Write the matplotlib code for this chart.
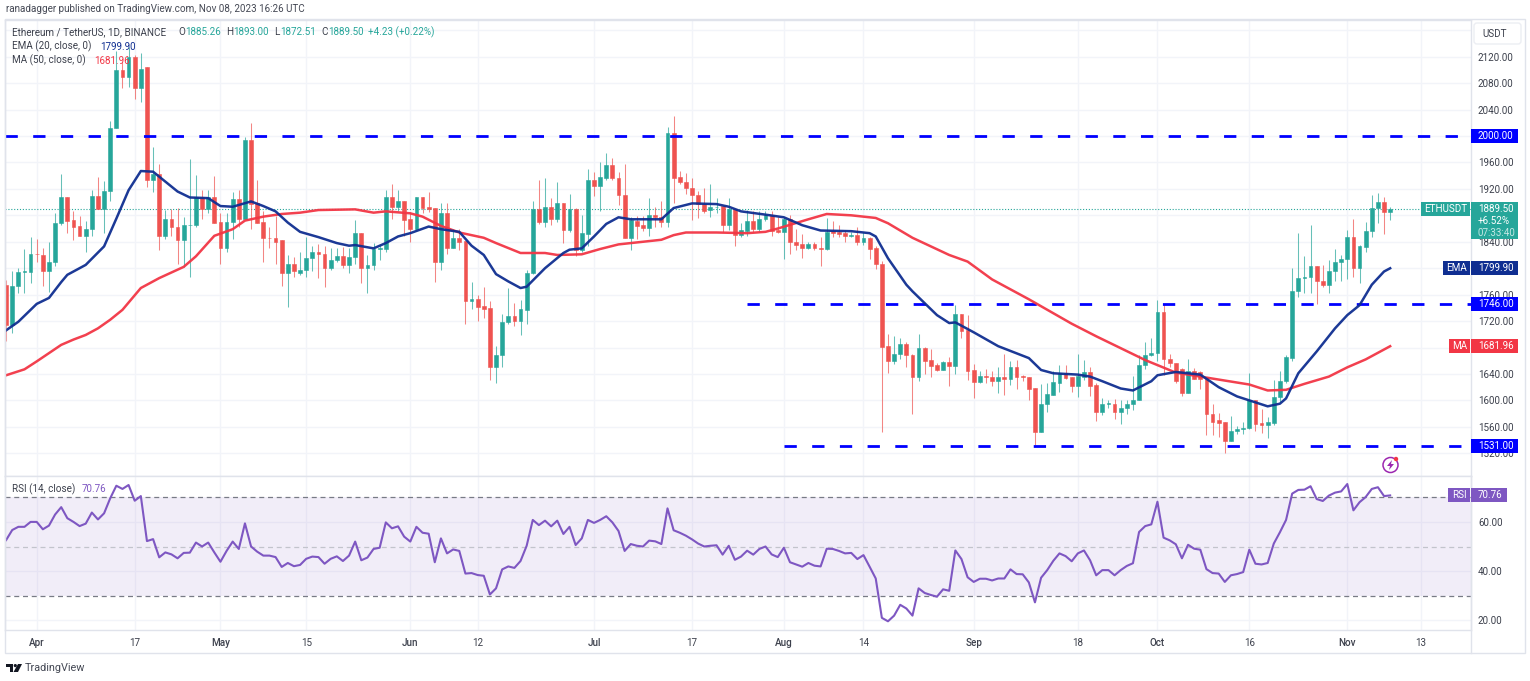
import matplotlib
matplotlib.use("Agg")
import matplotlib.pyplot as plt
from matplotlib.patches import Rectangle, Circle, Polygon, FancyBboxPatch
from matplotlib.transforms import Affine2D

plt.rcParams['font.family'] = ['Roboto', 'DejaVu Sans']

# days counted from Apr 1 2023
days = list(range(-5, 222))

opens = [1775,1714,1773,1794,1794,1822,1820,1795,1810,1869,
         1908,1873,1864,1848,1859,1909,1889,1917,2012,2100,
         2090,2119,2073,2104,1933,1943,1848,1874,1862,1842,
         1866,1866,1908,1890,1908,1870,1830,1870,1905,1875,
         1994,1898,1870,1846,1846,1842,1793,1807,1793,1798,
         1816,1824,1821,1800,1812,1819,1805,1817,1854,1800,
         1805,1829,1829,1908,1892,1901,1874,1860,1907,1892,
         1891,1809,1884,1830,1846,1841,1751,1754,1743,1740,
         1650,1668,1719,1728,1720,1737,1792,1890,1870,1893,
         1875,1898,1858,1890,1828,1852,1933,1924,1936,1956,
         1936,1911,1845,1872,1865,1861,1881,1878,1870,2004,
         1938,1931,1922,1911,1897,1888,1892,1894,1865,1890,
         1850,1857,1872,1860,1874,1881,1858,1855,1875,1839,
         1836,1830,1837,1830,1829,1856,1855,1853,1848,1850,
         1840,1846,1830,1807,1682,1660,1670,1686,1668,1635,
         1680,1661,1653,1646,1658,1652,1730,1706,1646,1628,
         1637,1636,1630,1635,1633,1650,1637,1636,1618,1552,
         1594,1608,1627,1642,1635,1622,1636,1643,1623,1583,
         1594,1595,1582,1589,1595,1600,1654,1668,1671,1733,
         1663,1657,1647,1611,1645,1643,1635,1580,1570,1567,
         1539,1554,1556,1558,1601,1566,1563,1566,1605,1630,
         1664,1765,1785,1787,1804,1780,1775,1795,1809,1814,
         1847,1801,1832,1856,1891,1900,1885.26]
highs = [1782,1796,1800,1829,1847,1844,1830,1839,1883,1943,
         1908,1887,1879,1871,1918,1938,1932,2023,2128,2114,
         2135,2122,2125,2104,1984,1958,1888,1889,1891,1878,
         1965,1941,1918,1918,1940,1883,1883,1916,1918,1999,
         2019,1934,1886,1863,1879,1842,1820,1817,1825,1847,
         1833,1837,1833,1830,1830,1832,1830,1873,1854,1820,
         1838,1835,1918,1927,1918,1901,1885,1907,1908,1915,
         1891,1898,1899,1860,1860,1841,1779,1760,1771,1751,
         1682,1730,1770,1748,1752,1798,1901,1933,1936,1906,
         1930,1898,1912,1891,1881,1950,1945,1960,1975,1966,
         1945,1958,1878,1879,1879,1906,1893,1902,2013,2030,
         1947,1944,1936,1917,1922,1928,1906,1894,1906,1890,
         1868,1888,1886,1886,1887,1886,1877,1877,1881,1859,
         1852,1840,1839,1847,1876,1871,1866,1858,1855,1862,
         1855,1847,1833,1811,1700,1697,1694,1689,1670,1701,
         1681,1678,1657,1659,1665,1745,1730,1729,1655,1644,
         1648,1645,1650,1670,1660,1661,1638,1636,1619,1625,
         1626,1645,1654,1654,1636,1670,1661,1650,1626,1603,
         1600,1602,1600,1600,1637,1669,1688,1694,1752,1746,
         1670,1657,1649,1663,1649,1645,1635,1595,1581,1568,
         1577,1562,1568,1641,1601,1587,1575,1631,1645,1669,
         1800,1854,1818,1865,1804,1805,1812,1829,1820,1858,
         1875,1835,1870,1911,1914,1907,1893.00]
lows = [1690,1702,1762,1763,1778,1810,1773,1764,1803,1866,
        1854,1842,1848,1825,1848,1889,1853,1901,2012,2072,
        2074,2056,2052,1923,1916,1827,1844,1848,1807,1802,
        1786,1863,1875,1883,1868,1806,1824,1844,1863,1875,
        1860,1869,1810,1830,1807,1773,1741,1786,1790,1786,
        1796,1785,1772,1797,1810,1800,1793,1807,1778,1762,
        1798,1812,1824,1874,1886,1848,1840,1856,1883,1885,
        1779,1797,1822,1830,1828,1715,1739,1720,1725,1631,
        1626,1650,1716,1712,1699,1716,1791,1867,1862,1865,
        1870,1838,1855,1819,1825,1833,1909,1886,1934,1934,
        1895,1845,1827,1844,1857,1848,1863,1863,1863,1898,
        1927,1913,1873,1876,1883,1878,1883,1855,1858,1834,
        1847,1849,1855,1855,1872,1849,1853,1814,1822,1827,
        1816,1829,1827,1803,1827,1847,1847,1839,1847,1835,
        1835,1814,1799,1552,1641,1655,1663,1651,1580,1630,
        1640,1636,1645,1646,1622,1640,1695,1631,1603,1627,
        1626,1622,1611,1608,1624,1617,1630,1601,1532,1552,
        1583,1608,1612,1633,1612,1605,1631,1606,1569,1578,
        1589,1572,1565,1580,1585,1600,1648,1667,1660,1639,
        1651,1626,1607,1611,1632,1617,1547,1548,1545,1521,
        1538,1549,1549,1557,1553,1551,1543,1563,1597,1627,
        1660,1757,1762,1762,1746,1772,1763,1780,1781,1784,
        1786,1778,1825,1847,1869,1851,1872.51]
closes = [1714,1773,1794,1795,1822,1821,1795,1810,1869,1908,
          1872,1863,1848,1859,1909,1889,1917,2012,2100,2090,
          2119,2073,2102,1933,1943,1848,1874,1862,1842,1866,
          1866,1908,1890,1907,1869,1830,1870,1905,1875,1994,
          1897,1869,1846,1845,1840,1793,1807,1795,1798,1816,
          1824,1821,1800,1812,1819,1805,1817,1854,1800,1805,
          1829,1830,1908,1892,1901,1873,1860,1907,1891,1889,
          1809,1884,1830,1846,1839,1751,1754,1742,1739,1650,
          1668,1719,1728,1720,1738,1793,1890,1870,1893,1875,
          1898,1858,1890,1828,1853,1933,1924,1938,1956,1936,
          1910,1845,1873,1864,1861,1881,1877,1870,2004,1937,
          1931,1922,1910,1897,1887,1892,1892,1865,1890,1850,
          1858,1872,1860,1874,1880,1857,1855,1874,1839,1835,
          1830,1837,1830,1829,1855,1854,1852,1848,1850,1840,
          1845,1829,1807,1681,1660,1670,1686,1668,1635,1680,
          1660,1652,1646,1658,1652,1730,1705,1645,1628,1637,
          1635,1630,1635,1633,1650,1636,1635,1617,1552,1594,
          1609,1628,1642,1634,1622,1637,1643,1622,1583,1594,
          1596,1582,1589,1595,1600,1654,1669,1672,1733,1662,
          1656,1630,1611,1645,1633,1633,1579,1567,1566,1539,
          1554,1556,1558,1601,1565,1563,1567,1605,1630,1665,
          1765,1785,1787,1804,1780,1775,1795,1809,1814,1847,
          1801,1833,1856,1891,1900,1885,1889.50]

ema_days = [-5,-3,0,2,4,5,8,11,13,15,17,19,21,23,25,28,30,32,35,37,39,41,43,46,49,51,52,55,
            57,59,61,64,66,69,71,73,75,77,79,80,83,86,87,89,91,93,95,97,102,104,107,111,113,115,
            119,122,125,128,133,136,137,139,142,143,145,147,149,150,153,157,162,164,166,170,172,174,
            177,179,182,183,186,190,193,196,198,201,203,204,206,209,212,214,216,218,220,221]
ema_vals = [1706,1719,1746,1755,1779,1790,1805,1833,1875,1918,1947,1946,1931,1916,1907,1906,1894,1893,1901,1894,1886,1869,1855,1847,1838,1834,1835,1830,
            1838,1848,1853,1863,1859,1855,1834,1820,1791,1780,1770,1772,1800,1823,1828,1830,1848,1867,1877,1874,1874,1891,1898,1897,1893,1886,
            1881,1877,1865,1857,1856,1853,1848,1815,1775,1765,1747,1729,1717,1718,1703,1682,1664,1646,1641,1639,1636,1629,
            1618,1615,1629,1638,1643,1639,1620,1606,1600,1591,1595,1603,1641,1674,1709,1729,1744,1775,1795,1799.90]

ma_days = [-5,-2,0,4,6,8,10,12,14,17,20,24,26,29,32,34,37,40,43,46,52,55,
           57,61,63,66,69,73,75,79,83,85,89,92,95,102,104,106,111,116,
           119,121,126,129,133,137,139,143,149,152,156,162,169,173,
           177,181,186,190,194,198,201,204,207,211,214,217,221]
ma_vals = [1638,1647,1659,1684,1692,1699,1709,1722,1737,1770,1785,1802,1818,1849,1859,1872,1878,1882,1884,1888,1889,1884,
           1886,1883,1878,1864,1854,1846,1838,1823,1823,1820,1821,1829,1836,1843,1850,1854,1854,1853,
           1855,1860,1874,1882,1880,1876,1868,1846,1820,1810,1783,1753,1716,1697,
           1679,1661,1642,1636,1630,1624,1615,1616,1625,1636,1650,1662,1681.96]

rsi_vals = [52.6,56.7,58,58,60,60,57,58.5,63,66,
            61.5,60,58.3,59.3,63.8,61,63.5,69.6,74.7,73.4,
            75,68.6,70.5,52.2,53,45.6,47.6,46.8,45.2,47.4,
            47.5,51.6,50,51.6,47.6,43.8,48.2,52,49,59.4,
            50,47.9,46.3,46.3,45.7,41.7,43.3,42,42.5,45,
            45.9,45.7,43,45,46,44.1,46.3,52,44.4,45.5,
            49,49.5,59.8,57.4,58.2,54,52,58,55.6,55.2,
            43.6,53.3,47.2,48.8,48.2,39,39.2,38.4,38.1,30.5,
            33,40.7,41.9,41.3,44.1,50.3,60.8,58.7,60.5,58.2,
            60.5,55.1,58,50.6,53.3,60.8,59.6,60.8,62.3,59.8,
            56.3,48.2,51,50.3,50,52.4,52.1,51,65.5,56.6,
            55.6,54.4,52.9,51.2,50,50.3,50.5,46.7,50.3,44.6,
            45.9,48.3,46.7,49,50,46.8,45.7,49.5,43.6,42.7,
            41.8,43.3,42.2,41.9,49.1,49,48.2,47.2,47.4,44.9,
            46.5,41.8,37,21,19.6,21.9,26.3,24.8,21.9,33,
            31.1,30.3,29.6,32.6,32,48.4,44.9,37.5,35.6,36.9,
            36.9,36.2,37,37,40.7,38.8,38.7,35.4,27.3,37.3,
            40.4,44.2,47.2,46.1,44,47.2,48.4,44.4,38.3,40.4,
            40.4,38.3,40.4,42.1,43.2,55.9,58.3,59,68.2,53.6,
            52.5,50.9,45.2,50.7,49.1,48.7,40.8,39.2,39,35.6,
            38.3,38.8,39.6,48.7,43,42.7,43.3,51.2,55.8,60.8,
            71.5,73,73.1,74.5,69.3,68.5,70.7,71.9,72.4,75.4,
            64.7,68,70.1,73.4,74.1,70.5,70.76]

level_vals = [2000, 1746, 1531]
level_starts = [-5.2, 116, 122]

price_ticks = [1520,1560,1600,1640,1680,1720,1760,1800,1840,1880,1920,1960,2000,2040,2080,2120,2160]
# these sit behind a price tag or above the scale, only their grid line shows
unlabelled_ticks = [1680,1800,1880,2000,2160]
rsi_ticks = [20, 40, 60]
time_ticks = [0,16,30,44,61,72,91,107,122,135,153,170,183,198,214,226]
time_labels = ['Apr','17','May','15','Jun','12','Jul','17','Aug','14','Sep','18','Oct','16','Nov','13']

GREEN = '#26a69a'
RED = '#ef5350'
GRID = '#f2f4f9'
BORDER = '#e0e3eb'
BLUE = '#0000ff'
NAVY = '#0f2e91'
MARED = '#f23645'
PURPLE = '#7e57c2'
TEXT = '#3c404c'
FS = 7.1

W, H = 1530, 681
fig = plt.figure(figsize=(W/100, H/100), dpi=100, facecolor='white')
pix = Affine2D().scale(1, -1).translate(0, H)

ax = fig.add_axes([5/W, 1-476/H, 1466/W, 456/H])
rs = fig.add_axes([5/W, 1-630/H, 1466/W, 154/H])

for a in (ax, rs):
    a.set_xlim(-5.18, 234.2)
    a.set_xticks(time_ticks)
    a.yaxis.tick_right()
    a.grid(True, color=GRID, lw=1)
    a.set_axisbelow(True)
    for s in a.spines.values():
        s.set_color(BORDER)
        s.set_linewidth(1)
    a.tick_params(length=0, labelsize=FS, labelcolor=TEXT)

ax.set_ylim(1485.6, 2175.5)
ax.set_yticks(price_ticks)
ax.set_yticklabels(['' if t in unlabelled_ticks else '%.2f' % t for t in price_ticks])
ax.tick_params(axis='x', labelbottom=False)
ax.tick_params(axis='y', pad=5)

# candles
for d, o, h, l, c in zip(days, opens, highs, lows, closes):
    col = GREEN if c >= o else RED
    ax.vlines(d, l, h, color=col, lw=0.75, alpha=0.7, zorder=2)
    ax.bar(d, c-o, bottom=o, width=0.62, color=col, edgecolor=col, lw=0.4, zorder=3)

ax.axhline(closes[-1], color=GREEN, lw=0.8, ls=(0, (1, 1.6)), zorder=1.5)

for v, s in zip(level_vals, level_starts):
    ax.plot([s, 234.2], [v, v], color=BLUE, lw=2, ls=(0, (4.43, 5.54)), dash_capstyle='butt', zorder=4)

ax.plot(ma_days, ma_vals, color=MARED, lw=1.8, alpha=0.95, zorder=5)
ax.plot(ema_days, ema_vals, color=NAVY, lw=1.8, alpha=0.95, zorder=5)

# rsi pane
rs.set_ylim(16.06, 78.66)
rs.set_yticks(rsi_ticks)
rs.set_yticklabels(['%.2f' % t for t in rsi_ticks])
rs.tick_params(axis='y', pad=5)
rs.set_xticklabels(time_labels)
rs.tick_params(axis='x', pad=6, labelsize=FS)
for lab, name in zip(rs.get_xticklabels(), time_labels):
    if not name.isdigit():
        lab.set_fontweight('medium')
rs.axhspan(30, 70, color=PURPLE, alpha=0.1, lw=0, zorder=1)
rs.axhline(70, color='#787b86', lw=0.9, ls=(0, (4, 3)), zorder=2)
rs.axhline(50, color='#c2c4cc', lw=0.9, ls=(0, (4, 3)), zorder=2)
rs.axhline(30, color='#787b86', lw=0.9, ls=(0, (4, 3)), zorder=2)
rs.plot(days, rsi_vals, color=PURPLE, lw=1.5, zorder=4)


def label(x, y, s, color=TEXT, size=FS, **kw):
    fig.text(x, y, s, transform=pix, color=color, fontsize=size, va='center', zorder=10, **kw)


def tag(a, value, text, color, x0=1471, x1=1518, name=None, name_x=None):
    # price tag on the right axis, placed through the pane's own scale
    y = H - a.transData.transform((0, value))[1]
    fig.add_artist(Rectangle((x0, y-7), x1-x0, 14, transform=pix, color=color, lw=0, zorder=9))
    label(x0+7, y, text, color='white')
    if name:
        fig.add_artist(Rectangle((name_x, y-7), x0-name_x-1, 14, transform=pix, color=color, lw=0, zorder=9))
        label((name_x+x0-1)/2, y, name, color='white', ha='center')


tag(ax, 2000, '2000.00', BLUE)
tag(ax, 1746, '1746.00', BLUE)
tag(ax, 1531, '1531.00', BLUE)
tag(ax, 1799.90, '1799.90', NAVY, name='EMA', name_x=1443)
tag(ax, 1681.96, '1681.96', MARED, name='MA', name_x=1449)
tag(rs, 70.76, '70.76', PURPLE, x1=1507, name='RSI', name_x=1448)

# last price tag has three rows
y_last = H - ax.transData.transform((0, closes[-1]))[1]
fig.add_artist(Rectangle((1471, y_last-7), 47, 37, transform=pix, color=GREEN, lw=0, zorder=9))
fig.add_artist(Rectangle((1421, y_last-7), 49, 14, transform=pix, color=GREEN, lw=0, zorder=9))
label(1445.5, y_last, 'ETHUSDT', color='white', ha='center')
label(1478, y_last, '%.2f' % closes[-1], color='white')
label(1478, y_last+12, '+6.52%', color='white')
label(1478, y_last+24, '07:33:40', color='#c4e8e4')

# currency button
fig.add_artist(FancyBboxPatch((1476, 25), 43, 17, boxstyle='round,pad=2,rounding_size=3', transform=pix,
                              fc='white', ec='#eceef3', lw=1, zorder=8))
label(1482, 34, 'USDT')

# frame round the whole chart
fig.add_artist(Rectangle((5, 19), 1520, 634, transform=pix, fill=False, ec=BORDER, lw=1, zorder=1))
fig.add_artist(plt.Line2D([1471, 1471], [476, 653], transform=pix, color=BORDER, lw=1, zorder=1))

# header and legend
label(6, 9, 'ranadagger published on TradingView.com, Nov 08, 2023 16:26 UTC', color='#444854')
label(12, 32, 'Ethereum / TetherUS, 1D, BINANCE')
for x, s in [(178, 'O'), (226, 'H'), (274, 'L'), (321, 'C')]:
    label(x, 32, s)
for x, s in [(185, '1885.26'), (233, '1893.00'), (280, '1872.51'), (328, '1889.50'), (368, '+4.23 (+0.22%)')]:
    label(x, 32, s, color=GREEN)
label(12, 46.5, 'EMA (20, close, 0)')
label(100, 46.5, '1799.90', color=NAVY)
label(12, 60.5, 'MA (50, close, 0)')
label(94, 60.5, '1681.96', color=MARED)
label(12, 489, 'RSI (14, close)')
label(82, 489, '70.76', color=PURPLE)

# snapshot icon
fig.add_artist(Circle((1390.5, 465), 7.5, transform=pix, fill=False, ec='#9c27b0', lw=1.1, zorder=9))
fig.add_artist(Polygon([(1392, 460), (1387, 466), (1390, 466), (1389, 470), (1394, 464), (1391, 464)],
                       transform=pix, color='#9c27b0', lw=0, zorder=9))
fig.add_artist(Circle((1396, 459), 2.2, transform=pix, color=MARED, lw=0, zorder=10))

# logo and brand
fig.add_artist(Polygon([(6, 664), (13, 664), (13, 672), (9.5, 672), (9.5, 667), (6, 667)], transform=pix, color='#131722', lw=0))
fig.add_artist(Circle((15.3, 665.6), 1.6, transform=pix, color='#131722', lw=0))
fig.add_artist(Polygon([(18, 664), (22, 664), (18, 672), (13.5, 672)], transform=pix, color='#131722', lw=0))
label(25, 668, 'TradingView', color='#444854', size=7.8)

fig.savefig('out.png', dpi=100)
